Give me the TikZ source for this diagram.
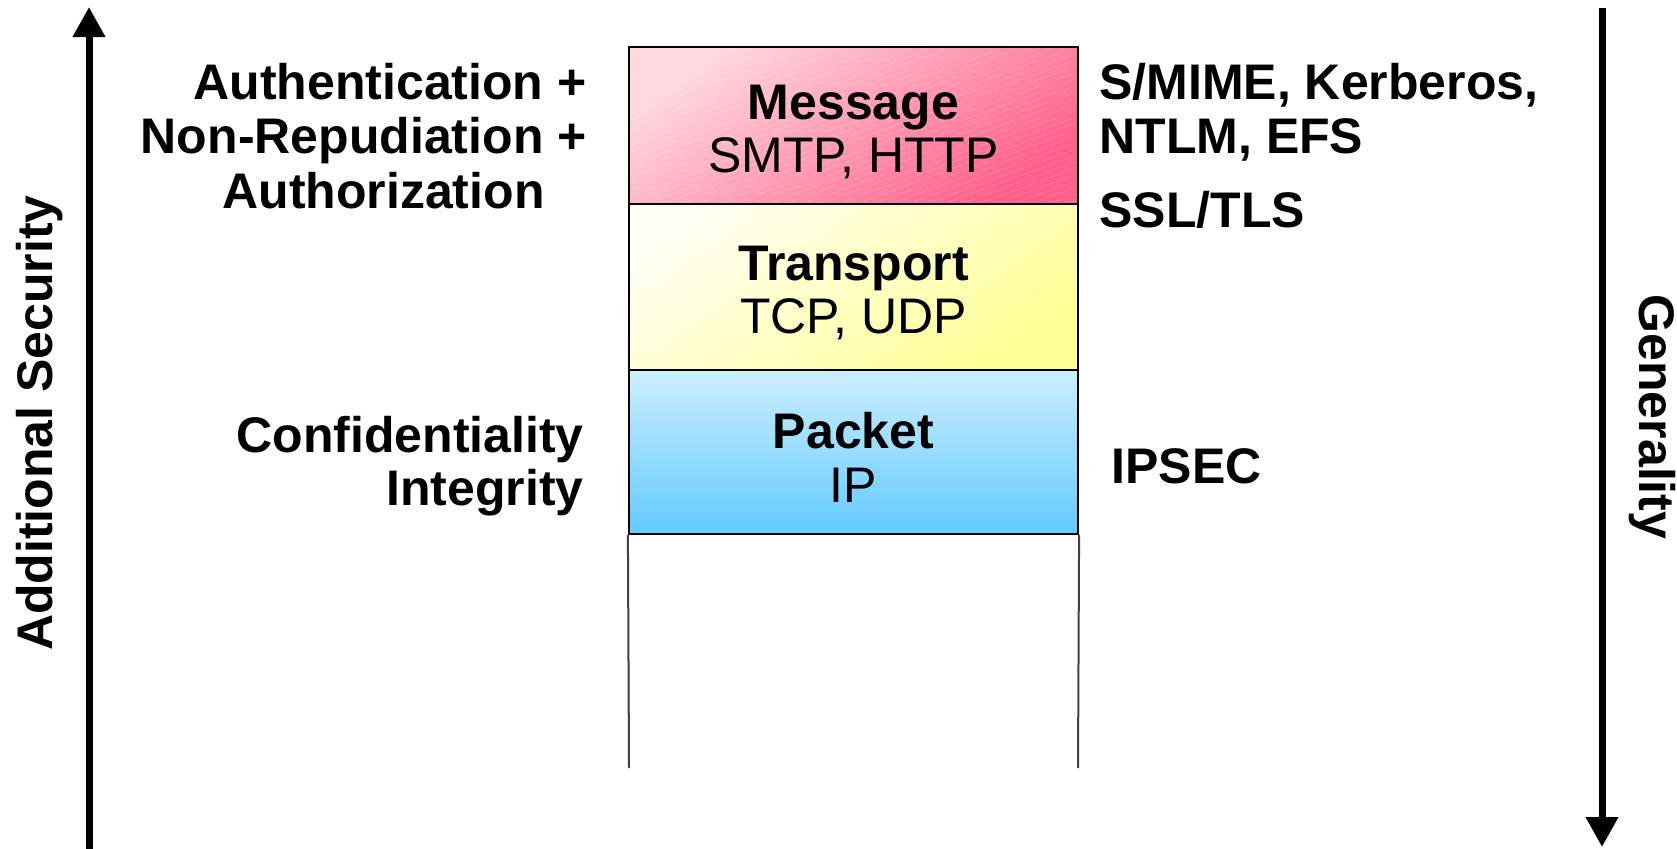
\documentclass[tikz,border=0pt]{standalone}
\usepackage{fontspec}
\setmainfont{Liberation Sans}
\usetikzlibrary{arrows.meta}

\definecolor{msgLight}{HTML}{FFD8E0}
\definecolor{msgDark}{HTML}{FF5F88}
\definecolor{trLight}{HTML}{FFFFF2}
\definecolor{trDark}{HTML}{FFFF96}
\definecolor{pkLight}{HTML}{CCEEFF}
\definecolor{pkDark}{HTML}{63CAFF}

\tikzset{
  boldlbl/.style={font=\fontsize{25}{30}\selectfont\bfseries, inner sep=0pt},
  plainlbl/.style={font=\fontsize{25}{30}\selectfont, inner sep=0pt},
  layer/.style={draw=black, line width=1.1pt, minimum width=224.5pt, inner sep=0pt},
  axisarrow/.style={line width=3.5pt, -{Triangle[width=15.5pt,length=15pt]}},
  sideline/.style={draw=black!75, line width=1pt},
  streak/.style={draw=white, line width=0.5pt, opacity=0.14},
}

\begin{document}
\begin{tikzpicture}[x=0.5pt, y=-0.5pt]
  \useasboundingbox[fill=white] (0,0) rectangle (1677,848);

  % protocol layers
  \node[layer, top color=msgLight, bottom color=msgDark, shading angle=35,
        minimum height=78.5pt] (msg) at (853.5,125.5) {};
  \node[layer, top color=trLight, bottom color=trDark, shading angle=35,
        minimum height=83pt] (trn) at (853.5,287) {};
  \node[layer, top color=pkLight, bottom color=pkDark,
        minimum height=82pt] (pkt) at (853.5,452) {};

  % fine diagonal texture on the message layer, kept inside its border
  \begin{scope}
    \clip (632,50) rectangle (1075,201);
    \foreach \s in {0,...,52} {
      \draw[streak] (190+17.5*\s,204) -- ++(431,-157);
    }
  \end{scope}

  % open column below the layers
  \coordinate (colL) at (629,768);
  \coordinate (colR) at (1078,768);
  \draw[sideline] (pkt.south west) -- (colL);
  \draw[sideline] (pkt.south east) -- (colR);

  % layer captions
  \node[boldlbl, anchor=base] (msgT) at (853.5,119) {Message};
  \node[plainlbl, anchor=base] (msgP) at (853.5,172) {SMTP, HTTP};
  \node[boldlbl, anchor=base] (trnT) at (853.5,280) {Transport};
  \node[plainlbl, anchor=base] (trnP) at (853.5,333) {TCP, UDP};
  \node[boldlbl, anchor=base] (pktT) at (853.5,448) {Packet};
  \node[plainlbl, anchor=base] (pktP) at (853.5,502) {IP};

  % security services
  \node[boldlbl, anchor=base east] (auth) at (587,99) {Authentication +};
  \node[boldlbl, anchor=base east] (nonrep) at (587,153) {Non-Repudiation +};
  \node[boldlbl, anchor=base east] (authz) at (545,208) {Authorization};
  \node[boldlbl, anchor=base east] (conf) at (584,452) {Confidentiality};
  \node[boldlbl, anchor=base east] (integ) at (584,505) {Integrity};

  % mechanisms
  \node[boldlbl, anchor=base west] (smime) at (1099,99) {S/MIME, Kerberos,};
  \node[boldlbl, anchor=base west] (ntlm) at (1099,153) {NTLM, EFS};
  \node[boldlbl, anchor=base west] (ssl) at (1099,227) {SSL/TLS};
  \node[boldlbl, anchor=base west] (ipsec) at (1111,483) {IPSEC};

  % axes
  \coordinate (secBot) at (89,850);
  \coordinate (secTop) at (89,7);
  \draw[axisarrow] (secBot) -- (secTop);
  \node[boldlbl, rotate=90] (addsec) at (40,423) {Additional Security};

  \coordinate (genTop) at (1602,8);
  \coordinate (genBot) at (1602,847);
  \draw[axisarrow] (genTop) -- (genBot);
  \node[boldlbl, rotate=-90] (gen) at (1652,417) {Generality};
\end{tikzpicture}
\end{document}
